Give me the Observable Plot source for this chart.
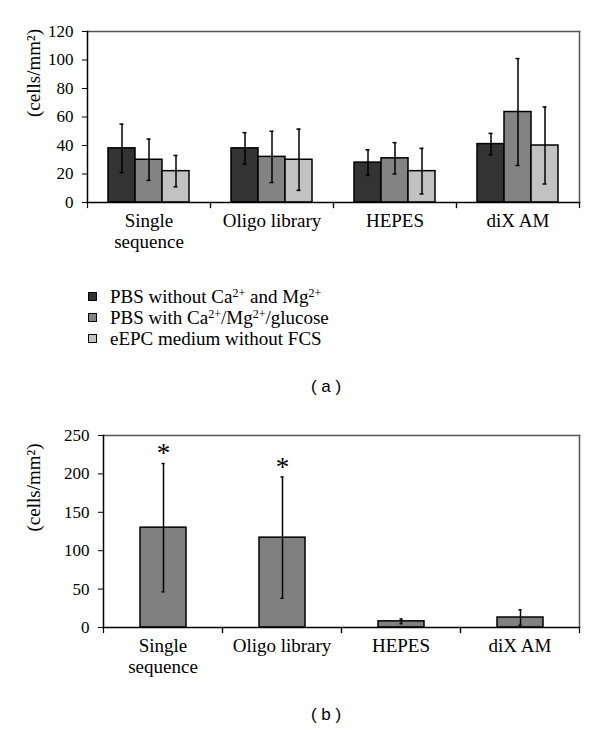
<!DOCTYPE html>
<html>
<head>
<meta charset="utf-8">
<script src="https://cdn.jsdelivr.net/npm/d3@7"></script>
<script src="https://cdn.jsdelivr.net/npm/@observablehq/plot@0.6"></script>
<style>
  html, body { margin: 0; padding: 0; background: #fff; }
  body { width: 600px; height: 732px; position: relative; overflow: hidden; }
  .panel { position: absolute; left: 0; }
  .legend { position: absolute; left: 88px; top: 286px; font-family: "Liberation Serif", "Times New Roman", serif; font-size: 19px; color: #000; }
  .legend .row { height: 21px; line-height: 21px; display: flex; align-items: center; white-space: nowrap; }
  .legend .sw { width: 7px; height: 7px; border: 1px solid #000; margin-right: 13px; flex: none; }
  .legend sup { font-size: 12px; line-height: 0; vertical-align: 6px; }
  .cap { position: absolute; width: 80px; text-align: center; font-family: "Liberation Sans", Arial, sans-serif; font-size: 17px; color: #000; }
</style>
</head>
<body>
<div id="chartA" class="panel" style="top:0"></div>
<div id="legendA" class="legend"></div>
<div class="cap" style="left:286px; top:377px">( a )</div>
<div id="chartB" class="panel" style="top:404px"></div>
<div class="cap" style="left:286px; top:705px">( b )</div>
<script>
// ---------- data ----------
const categories = ["Single\nsequence", "Oligo library", "HEPES", "diX AM"];

const seriesA = ["PBS without Ca2+ and Mg2+", "PBS with Ca2+/Mg2+/glucose", "eEPC medium without FCS"];
const seriesAHtml = [
  "PBS without Ca<sup>2+</sup> and Mg<sup>2+</sup>",
  "PBS with Ca<sup>2+</sup>/Mg<sup>2+</sup>/glucose",
  "eEPC medium without FCS"
];
const meanPbsWithout = [38, 38, 28, 41];
const errPbsWithout  = [17, 11, 9, 7.5];
const meanPbsWith    = [30, 32, 31, 63.5];
const errPbsWith     = [14.5, 18, 11, 37.5];
const meanMedium     = [22, 30, 22, 40];
const errMedium      = [11, 21.5, 16, 27];
const yTicksA = [0, 20, 40, 60, 80, 100, 120];

const seriesB = ["B"];
const meanB = [130, 117, 8, 13];
const errB  = [83.5, 79, 3, 10];
const sigB  = ["*", "*", "", ""];
const yTicksB = [0, 50, 100, 150, 200, 250];

const yLabel = "(cells/mm²)";
const colorsA = ["#333333", "#838383", "#c2c2c2"];
const colorsB = ["#808080"];

// ---------- tables ----------
const meansA = [meanPbsWithout, meanPbsWith, meanMedium];
const errsA = [errPbsWithout, errPbsWith, errMedium];
const rowsA = [];
categories.forEach((cat, i) => seriesA.forEach((s, j) => rowsA.push({cat, series: s, mean: meansA[j][i], err: errsA[j][i]})));
const rowsB = categories.map((cat, i) => ({cat, series: seriesB[0], mean: meanB[i], err: errB[i], sig: sigB[i]}));

const SERIF = "Liberation Serif, Times New Roman, serif";

function groupedChart({rows, series, colors, yDomain, yTicks, height, marginLeft, xPadOuter, capInset, labelDx, stars}) {
  const mt = 31, mb = 58, mr = 21;
  const ph = height - mt - mb;
  const lo = d => d.mean - d.err, hi = d => d.mean + d.err;
  const sw = 1.5;
  const marks = [
    Plot.barY(rows, {fx: "cat", x: "series", y: "mean", fill: "series", stroke: "#000", strokeWidth: sw}),
    Plot.ruleX(rows, {fx: "cat", x: "series", y1: lo, y2: hi, stroke: "#000", strokeWidth: sw}),
    Plot.tickY(rows, {fx: "cat", x: "series", y: lo, insetLeft: capInset, insetRight: capInset, stroke: "#000", strokeWidth: sw}),
    Plot.tickY(rows, {fx: "cat", x: "series", y: hi, insetLeft: capInset, insetRight: capInset, stroke: "#000", strokeWidth: sw}),
    Plot.frame({anchor: "left", insetTop: ph, insetBottom: -5, stroke: "#000", strokeWidth: 1.2}),
    Plot.frame({anchor: "right", insetTop: ph, insetBottom: -5, stroke: "#000", strokeWidth: 1.2}),
    Plot.frame({facet: "super", anchor: "top", stroke: "#555", strokeWidth: 1.5}),
    Plot.frame({facet: "super", anchor: "right", stroke: "#555", strokeWidth: 1.5}),
    Plot.frame({facet: "super", anchor: "left", stroke: "#000", strokeWidth: 1.5}),
    Plot.frame({facet: "super", anchor: "bottom", stroke: "#000", strokeWidth: 1.5}),
    Plot.axisY({ticks: yTicks, tickSize: 5, tickPadding: 9, label: null, fontSize: 17, fontFamily: SERIF}),
    Plot.axisFx({anchor: "bottom", tickSize: 0, tickPadding: 10, label: null, fontSize: 19, lineHeight: 1.1, fontFamily: SERIF}),
    Plot.text([yLabel], {facet: "super", text: d => d, frameAnchor: "left", rotate: -90, dx: labelDx, fontSize: 19, fontFamily: SERIF})
  ];
  if (stars) {
    marks.push(Plot.text(rows, {fx: "cat", x: "series", y: hi, text: "sig", dy: -10, fontSize: 27, fontFamily: SERIF}));
  }
  return Plot.plot({
    width: 600, height,
    marginTop: mt, marginRight: mr, marginBottom: mb, marginLeft,
    style: {fontFamily: SERIF, color: "#000", background: "#fff", overflow: "visible"},
    fx: {domain: categories, padding: 0},
    x: {domain: series, paddingInner: 0, paddingOuter: xPadOuter, axis: null},
    y: {domain: yDomain},
    color: {domain: series, range: colors},
    marks
  });
}

document.getElementById("chartA").append(groupedChart({
  rows: rowsA, series: seriesA, colors: colorsA, yDomain: [0, 120], yTicks: yTicksA,
  height: 260, marginLeft: 87, xPadOuter: 0.75, capInset: 11.5, labelDx: -54, stars: false
}));

document.getElementById("chartB").append(groupedChart({
  rows: rowsB, series: seriesB, colors: colorsB, yDomain: [0, 250], yTicks: yTicksB,
  height: 281, marginLeft: 103, xPadOuter: 0.766, capInset: 21.5, labelDx: -70, stars: true
}));

// legend
const legend = document.getElementById("legendA");
seriesA.forEach((s, i) => {
  const row = document.createElement("div");
  row.className = "row";
  const sw = document.createElement("span");
  sw.className = "sw";
  sw.style.background = colorsA[i];
  const t = document.createElement("span");
  t.innerHTML = seriesAHtml[i];
  row.append(sw, t);
  legend.append(row);
});
</script>
</body>
</html>
